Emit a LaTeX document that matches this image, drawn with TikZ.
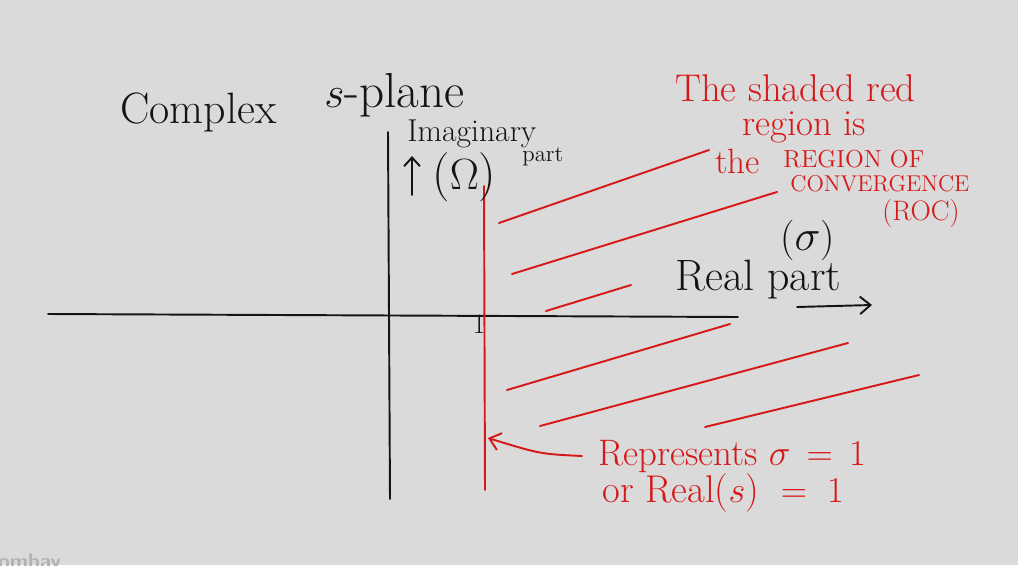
\documentclass[tikz,border=0pt]{standalone}
\usetikzlibrary{arrows.meta}
\definecolor{bgc}{RGB}{218,218,218}
\definecolor{pen}{RGB}{20,20,20}
\definecolor{redpen}{RGB}{214,24,24}
\definecolor{wm}{RGB}{178,178,178}
\newcommand{\fs}[1]{\fontsize{#1}{#1}\selectfont}
\begin{document}
\begin{tikzpicture}[x=0.02cm,y=-0.02cm,
  blk/.style={draw=pen,line width=1.1pt,line cap=round},
  rd/.style={draw=redpen,line width=1.1pt,line cap=round},
  hatch/.style={rd},
  btxt/.style={text=pen,inner sep=0pt,anchor=base west},
  rtxt/.style={text=redpen,inner sep=0pt,anchor=base west}]
\clip (0,0) rectangle (1018,565);
\fill[bgc] (0,0) rectangle (1018,565);
% watermark
\node[text=wm,inner sep=0pt,anchor=base west,font=\sffamily\bfseries\fs{12}] (wmk) at (-2,568) {ombay};
% axes
\coordinate (xl) at (48,314);
\coordinate (xr) at (738,317);
\coordinate (yt) at (388,132);
\coordinate (yb) at (390,499);
\draw[blk] (xl) -- (xr);
\draw[blk] (yt) -- (yb);
% sigma = 1 line
\coordinate (rt) at (484,186);
\coordinate (rb) at (485,490);
\draw[rd] (rt) -- (rb);
\node[text=pen,inner sep=0pt,font=\fs{16}] (one) at (479,324) {1};
% hatching
\coordinate (h1a) at (499,223); \coordinate (h1b) at (709,150);
\coordinate (h2a) at (512,274); \coordinate (h2b) at (777,192);
\coordinate (h3a) at (546,311); \coordinate (h3b) at (631,285);
\coordinate (h4a) at (507,390); \coordinate (h4b) at (730,324);
\coordinate (h5a) at (540,426); \coordinate (h5b) at (848,343);
\coordinate (h6a) at (705,427); \coordinate (h6b) at (919,375);
\foreach \i in {1,...,6} {\draw[hatch] (h\i a) -- (h\i b);}
% titles
\node[btxt,font=\fs{25}] (cplx) at (120,123) {Complex};
\node[btxt,font=\fs{28}] (spl) at (324,107) {$s$-plane};
\node[btxt,font=\fs{18}] (imag) at (407,141) {Imaginary};
\node[btxt,font=\fs{13}] (part1) at (522,161) {part};
\node[btxt,font=\fs{28}] (omg) at (432,189) {($\Omega$)};
\coordinate (ua) at (412,195);
\coordinate (ub) at (412,156);
\draw[blk,-{Straight Barb[length=5pt,width=9pt]}] (ua) -- (ub);
% real part
\node[btxt,font=\fs{23}] (sig) at (780,250) {($\sigma$)};
\node[btxt,font=\fs{25}] (real) at (675,290) {Real part};
\coordinate (ra) at (797,307);
\coordinate (rb2) at (872,305);
\draw[blk,-{Straight Barb[length=6pt,width=10pt]}] (ra) -- (rb2);
% red notes
\node[rtxt,font=\fs{22}] (t1) at (675,101) {The shaded red};
\node[rtxt,font=\fs{21}] (t2) at (742,135) {region is};
\node[rtxt,font=\fs{20}] (t3) at (715,173) {the};
\node[rtxt,font=\fs{14}] (t4) at (783,167) {REGION OF};
\node[rtxt,font=\fs{13}] (t5) at (790,191) {CONVERGENCE};
\node[rtxt,font=\fs{16}] (t6) at (882,220) {(ROC)};
\node[rtxt,font=\fs{21}] (rep) at (598,465) {Represents $\sigma \,=\, 1$};
\node[rtxt,font=\fs{22}] (orl) at (602,502) {or Real($s$) $\;=\;1$};
\coordinate (pa) at (582,456);
\coordinate (pb) at (488,438);
\draw[rd,-{Straight Barb[length=6pt,width=10pt]}] (pa) .. controls (540,454) .. (pb);
\end{tikzpicture}
\end{document}
